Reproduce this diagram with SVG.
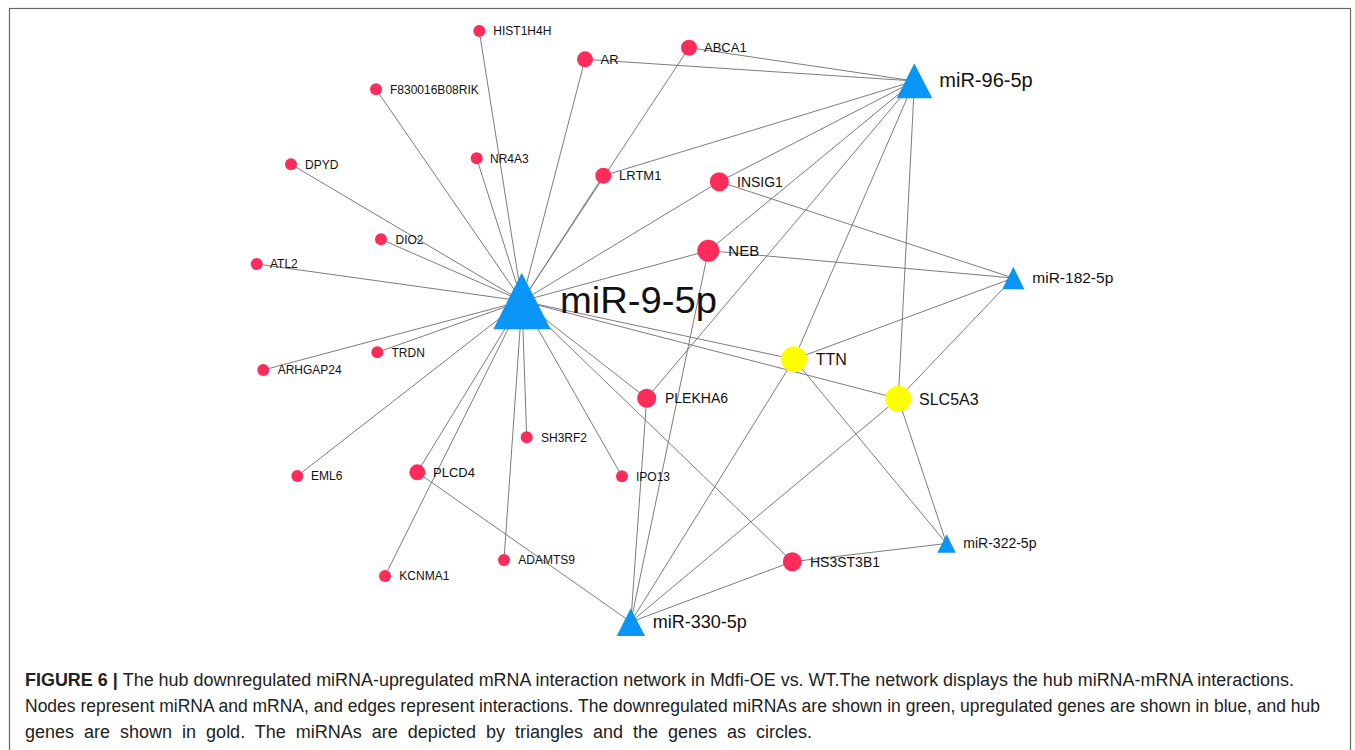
<svg xmlns="http://www.w3.org/2000/svg" width="1355" height="750" viewBox="0 0 1355 750">
<style>
text{font-family:"Liberation Sans",Arial,sans-serif;fill:#111}
.e line{stroke:#7c7c7c;stroke-width:1;fill:none}
.g{fill:#FE2C5B}
.h{fill:#FFFF00}
.m{fill:#0A96F6}
.s12{font-size:12px}.s13{font-size:13px}.s14{font-size:14px}.s15{font-size:15px}.s16{font-size:16px}
.cap{font-size:18px;fill:#222}
</style>
<rect x="9.5" y="8.5" width="1341" height="760" fill="#fff" stroke="#666" stroke-width="1.2"/>
<g id="edges" class="e">
<line x1="522" y1="301" x2="479.3" y2="31"/>
<line x1="522" y1="301" x2="376" y2="89.3"/>
<line x1="522" y1="301" x2="291" y2="164.3"/>
<line x1="522" y1="301" x2="476.7" y2="158.3"/>
<line x1="522" y1="301" x2="585" y2="59.3"/>
<line x1="522" y1="301" x2="689" y2="47.7"/>
<line x1="522" y1="301" x2="603.3" y2="175.7"/>
<line x1="522" y1="301" x2="381" y2="239.3"/>
<line x1="522" y1="301" x2="256.7" y2="264"/>
<line x1="522" y1="301" x2="719.3" y2="181.7"/>
<line x1="522" y1="301" x2="708.3" y2="250.7"/>
<line x1="522" y1="301" x2="377.3" y2="352.3"/>
<line x1="522" y1="301" x2="263.3" y2="370"/>
<line x1="522" y1="301" x2="297.3" y2="476"/>
<line x1="522" y1="301" x2="417.3" y2="472.3"/>
<line x1="522" y1="301" x2="385" y2="576"/>
<line x1="522" y1="301" x2="504" y2="560"/>
<line x1="522" y1="301" x2="526.7" y2="437.3"/>
<line x1="522" y1="301" x2="622" y2="476.3"/>
<line x1="522" y1="301" x2="646.7" y2="398.3"/>
<line x1="522" y1="301" x2="794" y2="359.3"/>
<line x1="522" y1="301" x2="898.3" y2="398.7"/>
<line x1="522" y1="301" x2="792.3" y2="561.7"/>
<line x1="914.5" y1="81" x2="585" y2="59.3"/>
<line x1="914.5" y1="81" x2="689" y2="47.7"/>
<line x1="914.5" y1="81" x2="603.3" y2="175.7"/>
<line x1="914.5" y1="81" x2="719.3" y2="181.7"/>
<line x1="914.5" y1="81" x2="708.3" y2="250.7"/>
<line x1="914.5" y1="81" x2="646.7" y2="398.3"/>
<line x1="914.5" y1="81" x2="794" y2="359.3"/>
<line x1="914.5" y1="81" x2="898.3" y2="398.7"/>
<line x1="1013.3" y1="278" x2="719.3" y2="181.7"/>
<line x1="1013.3" y1="278" x2="708.3" y2="250.7"/>
<line x1="1013.3" y1="278" x2="794" y2="359.3"/>
<line x1="1013.3" y1="278" x2="898.3" y2="398.7"/>
<line x1="946.5" y1="543.5" x2="794" y2="359.3"/>
<line x1="946.5" y1="543.5" x2="898.3" y2="398.7"/>
<line x1="946.5" y1="543.5" x2="792.3" y2="561.7"/>
<line x1="630.8" y1="622" x2="417.3" y2="472.3"/>
<line x1="630.8" y1="622" x2="646.7" y2="398.3"/>
<line x1="630.8" y1="622" x2="708.3" y2="250.7"/>
<line x1="630.8" y1="622" x2="794" y2="359.3"/>
<line x1="630.8" y1="622" x2="898.3" y2="398.7"/>
<line x1="630.8" y1="622" x2="792.3" y2="561.7"/>
</g>
<g id="n-HIST1H4H"><circle class="g" cx="479.3" cy="31" r="6"/><text class="s12" x="493.3" y="35.3">HIST1H4H</text></g>
<g id="n-F830016B08RIK"><circle class="g" cx="376" cy="89.3" r="6"/><text class="s12" x="390" y="93.5">F830016B08RIK</text></g>
<g id="n-DPYD"><circle class="g" cx="291" cy="164.3" r="6"/><text class="s12" x="305" y="168.5">DPYD</text></g>
<g id="n-NR4A3"><circle class="g" cx="476.7" cy="158.3" r="6"/><text class="s12" x="490" y="162.5">NR4A3</text></g>
<g id="n-DIO2"><circle class="g" cx="381" cy="239.3" r="6"/><text class="s12" x="395.5" y="243.5">DIO2</text></g>
<g id="n-ATL2"><circle class="g" cx="256.7" cy="264" r="6"/><text class="s12" x="270" y="268.3">ATL2</text></g>
<g id="n-TRDN"><circle class="g" cx="377.3" cy="352.3" r="6"/><text class="s12" x="391.5" y="356.5">TRDN</text></g>
<g id="n-ARHGAP24"><circle class="g" cx="263.3" cy="370" r="6"/><text class="s12" x="277.7" y="374.3">ARHGAP24</text></g>
<g id="n-SH3RF2"><circle class="g" cx="526.7" cy="437.3" r="6"/><text class="s12" x="541" y="441.5">SH3RF2</text></g>
<g id="n-EML6"><circle class="g" cx="297.3" cy="476" r="6"/><text class="s12" x="311" y="480.3">EML6</text></g>
<g id="n-IPO13"><circle class="g" cx="622" cy="476.3" r="6"/><text class="s12" x="636" y="480.5">IPO13</text></g>
<g id="n-KCNMA1"><circle class="g" cx="385" cy="576" r="6"/><text class="s12" x="399.3" y="580.3">KCNMA1</text></g>
<g id="n-ADAMTS9"><circle class="g" cx="504" cy="560" r="6"/><text class="s12" x="518.3" y="564.3">ADAMTS9</text></g>
<g id="n-AR"><circle class="g" cx="585" cy="59.3" r="8"/><text class="s13" x="600.5" y="64">AR</text></g>
<g id="n-ABCA1"><circle class="g" cx="689" cy="47.7" r="8"/><text class="s13" x="704" y="52.3">ABCA1</text></g>
<g id="n-LRTM1"><circle class="g" cx="603.3" cy="175.7" r="8"/><text class="s13" x="619" y="180.3">LRTM1</text></g>
<g id="n-PLCD4"><circle class="g" cx="417.3" cy="472.3" r="8"/><text class="s13" x="433" y="476.7">PLCD4</text></g>
<g id="n-INSIG1"><circle class="g" cx="719.3" cy="181.7" r="9.5"/><text class="s14" x="737" y="186.8">INSIG1</text></g>
<g id="n-PLEKHA6"><circle class="g" cx="646.7" cy="398.3" r="9.5"/><text class="s14" x="665" y="403">PLEKHA6</text></g>
<g id="n-HS3ST3B1"><circle class="g" cx="792.3" cy="561.7" r="9.5"/><text class="s14" x="810" y="566.7">HS3ST3B1</text></g>
<g id="n-NEB"><circle class="g" cx="708.3" cy="250.7" r="11"/><text class="s15" x="728.3" y="256">NEB</text></g>
<g id="n-TTN"><circle class="h" cx="794" cy="359.3" r="13"/><text class="s16" x="815.7" y="365">TTN</text></g>
<g id="n-SLC5A3"><circle class="h" cx="898.3" cy="398.7" r="13"/><text class="s16" x="919" y="404.5">SLC5A3</text></g>
<g id="n-miR-9-5p"><polygon class="m" points="521.7,272.7 493.3,329.3 550.7,329.3"/><text x="560" y="313.3" style="font-size:37px" textLength="157" lengthAdjust="spacingAndGlyphs">miR-9-5p</text></g>
<g id="n-miR-96-5p"><polygon class="m" points="914.3,63.3 896.7,98.3 932.3,98.3"/><text x="939.3" y="87.3" style="font-size:20px">miR-96-5p</text></g>
<g id="n-miR-182-5p"><polygon class="m" points="1013.3,266.7 1002.3,289.3 1024.3,289.3"/><text x="1032.3" y="283.3" style="font-size:15.5px">miR-182-5p</text></g>
<g id="n-miR-322-5p"><polygon class="m" points="946.7,534.3 937.3,552.7 955.7,552.7"/><text x="963.3" y="548.3" style="font-size:14px">miR-322-5p</text></g>
<g id="n-miR-330-5p"><polygon class="m" points="630.7,608.3 616.7,636 645,636"/><text x="652.7" y="627.7" style="font-size:18px">miR-330-5p</text></g>
<g id="caption">
<text class="cap" x="25" y="685.5" textLength="1269" lengthAdjust="spacingAndGlyphs"><tspan font-weight="bold">FIGURE 6 | </tspan>The hub downregulated miRNA-upregulated mRNA interaction network in Mdfi-OE vs. WT.The network displays the hub miRNA-mRNA interactions.</text>
<text class="cap" x="25" y="712" textLength="1295" lengthAdjust="spacingAndGlyphs">Nodes represent miRNA and mRNA, and edges represent interactions. The downregulated miRNAs are shown in green, upregulated genes are shown in blue, and hub</text>
<text class="cap" x="25" y="738" word-spacing="5">genes are shown in gold. The miRNAs are depicted by triangles and the genes as circles.</text>
</g>
</svg>
